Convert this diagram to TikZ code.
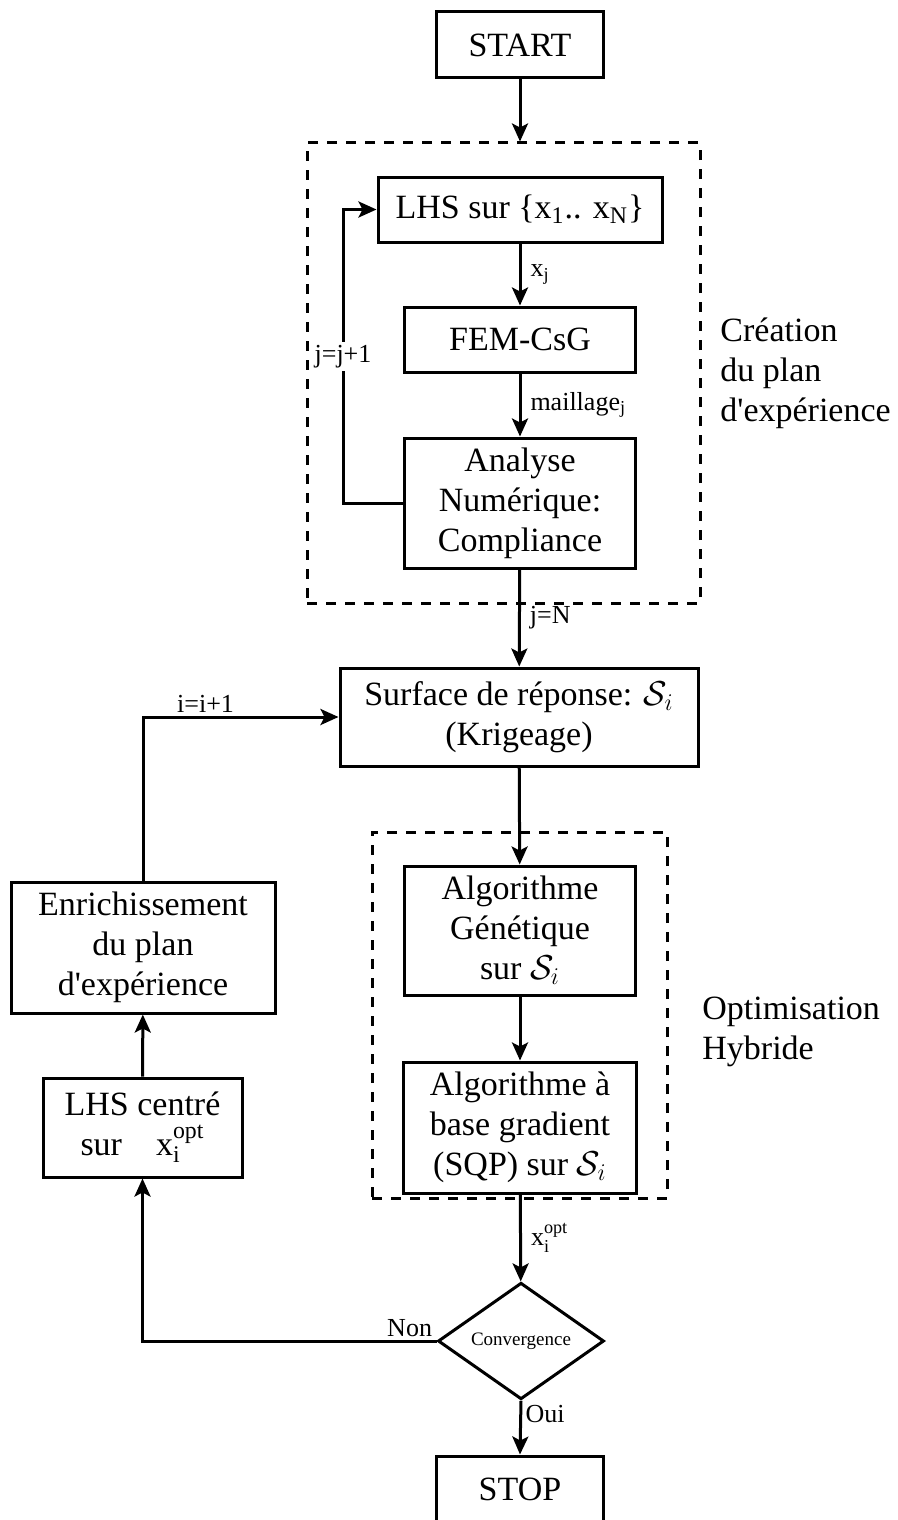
\documentclass[tikz,border=0pt]{standalone}
\usepackage{fontspec}
\setmainfont{Liberation Serif}
\usetikzlibrary{arrows.meta,shapes.geometric,fit}

\newcommand{\Si}{$\mathcal{S}_i$}
\newcommand{\xopt}{$\mathrm{x}_{\mathrm{i}}^{\mathrm{opt}}$}

\begin{document}
\begin{tikzpicture}[x=.5pt,y=-.5pt,
  box/.style={draw,line width=1.5pt,align=center,inner sep=0,font=\fontsize{17}{20}\selectfont},
  grp/.style={draw,line width=1.5pt,dash pattern=on 5pt off 4.5pt,inner sep=0},
  arr/.style={line width=1.5pt,-{Stealth[length=9pt,width=8pt,inset=2pt]}},
  lbl/.style={font=\fontsize{13}{15}\selectfont,inner sep=1.5pt},
  side/.style={align=left,inner sep=0,font=\fontsize{17}{20}\selectfont}]
\useasboundingbox (0,0) rectangle (898,1520);

% main column
\node[box,minimum width=83.5pt,minimum height=33pt] (start) at (520,45) {START};
\node[grp,fit={(307,143) (700,603)}] (plan) {};
\node[box,minimum width=142pt,minimum height=32.5pt] (lhs) at (520,209.5) {LHS sur \{x\textsubscript{1}.. x\textsubscript{N}\}};
\node[box,minimum width=115.5pt,minimum height=32.5pt] (fem) at (520,339.5) {FEM-CsG};
\node[box,minimum width=115.5pt,minimum height=65pt] (analyse) at (520,503) {Analyse\\Numérique:\\Compliance};
\node[box,minimum width=179pt,minimum height=49pt] (surface) at (519,717) {Surface de réponse: \Si\\(Krigeage)};
\node[grp,fit={(372,832) (667,1198)}] (hybride) {};
\node[box,minimum width=115.5pt,minimum height=64.5pt] (ag) at (520,930.5) {Algorithme\\Génétique\\sur \Si};
\node[box,minimum width=116.5pt,minimum height=65.5pt] (grad) at (520,1127.5) {Algorithme à\\base gradient\\(SQP) sur \Si};
\node[draw,diamond,line width=1.5pt,inner sep=0,minimum width=83pt,minimum height=48.5pt,font=\fontsize{9.5}{11}\selectfont] (conv) at (521,1341) {Convergence};
\node[box,minimum width=83.5pt,minimum height=33pt] (stop) at (520,1489) {STOP};

% left column
\node[box,minimum width=132pt,minimum height=65.5pt] (enrich) at (143,947.5) {Enrichissement\\du plan\\d\textquotesingle expérience};
\node[box,minimum width=99.5pt,minimum height=49.5pt] (lhsc) at (142.5,1127.5) {LHS centré\\sur\quad \xopt};

% side texts
\node[side,anchor=west] (txtplan) at (720,373) {Création\\du plan\\d\textquotesingle expérience};
\node[side,anchor=west] (txtopt) at (702,1032) {Optimisation\\Hybride};

% connectors
\draw[arr] (start) -- (start |- plan.north);
\draw[arr] (lhs) -- (fem) node[midway,right=3pt,lbl] {x\textsubscript{j}};
\draw[arr] (fem) -- (analyse) node[midway,right=3pt,lbl] {maillage\textsubscript{j}};
\draw[arr] (analyse.west) -- ++(-60,0) |- (lhs.west) node[pos=.25,lbl,fill=white] {j=j+1};
\draw[arr] (analyse) -- (surface) node[midway,right=3pt,lbl] {j=N};
\draw[arr] (surface) -- (ag);
\draw[arr] (ag) -- (grad);
\draw[arr] (grad) -- (conv) node[midway,right=3pt,lbl] {\xopt};
\draw[arr] (conv.west) -| (lhsc.south) node[pos=0,above left,lbl] {Non};
\draw[arr] (conv.south) -- (stop.north) node[pos=0,below right,lbl] {Oui};
\draw[arr] (lhsc) -- (enrich);
\draw[arr] (enrich.north) |- (surface.west) node[pos=.66,above,lbl] {i=i+1};
\end{tikzpicture}
\end{document}
